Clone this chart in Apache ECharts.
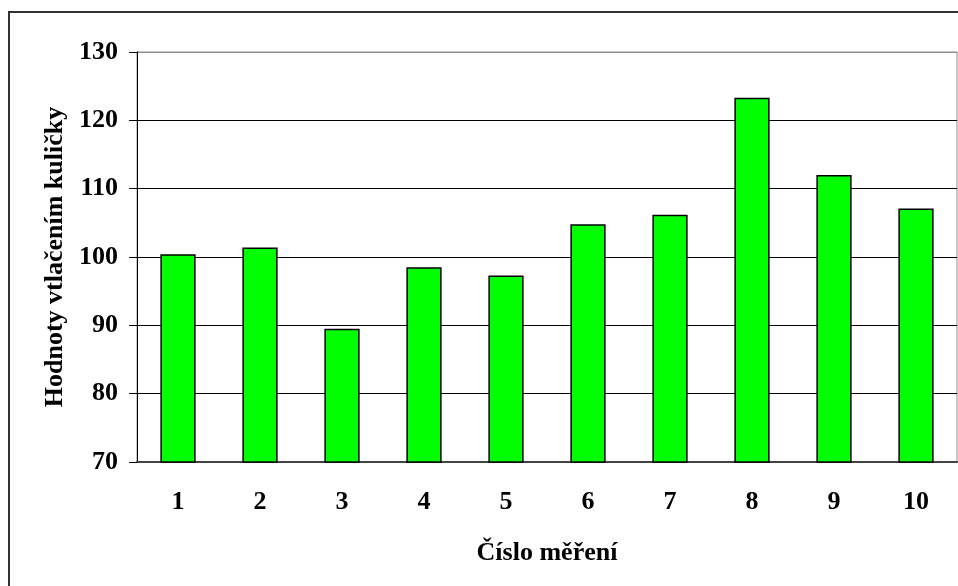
<!DOCTYPE html>
<html>
<head>
<meta charset="utf-8">
<script src="https://cdn.jsdelivr.net/npm/echarts@6/dist/echarts.min.js"></script>
<style>html,body{margin:0;padding:0;background:#fff;}#c{width:958px;height:586px;}</style>
</head>
<body>
<div id="c"></div>
<script>
const categories = ['1','2','3','4','5','6','7','8','9','10'];
const values = [100.4, 101.4, 89.5, 98.5, 97.3, 104.8, 106.2, 123.3, 112.0, 107.1];
const yTicks = [70, 80, 90, 100, 110, 120, 130];
const xTitle = 'Číslo měření';
const yTitle = 'Hodnoty vtlačením kuličky';

const FONT = '"Liberation Serif", "Times New Roman", serif';
const chart = echarts.init(document.getElementById('c'), null, {renderer: 'canvas'});
chart.setOption({
  animation: false,
  backgroundColor: '#fff',
  graphic: [{
    type: 'rect', silent: true, z: -10,
    shape: {x: 9, y: 12, width: 960, height: 590},
    style: {fill: 'none', stroke: '#333', lineWidth: 2}
  }],
  grid: {left: 137, top: 52, right: 1, bottom: 124, show: true, borderColor: '#909090', borderWidth: 1, backgroundColor: 'transparent'},
  xAxis: {
    type: 'category', data: categories,
    name: xTitle, nameLocation: 'middle', nameGap: 78,
    nameTextStyle: {fontFamily: FONT, fontWeight: 'bold', fontSize: 26, color: '#000'},
    axisLine: {lineStyle: {color: '#444', width: 2}},
    axisTick: {length: 8, lineStyle: {color: '#444'}},
    axisLabel: {fontFamily: FONT, fontWeight: 'bold', fontSize: 26, color: '#000', margin: 27},
    splitLine: {show: false}
  },
  yAxis: {
    type: 'value', min: yTicks[0], max: yTicks[yTicks.length - 1], interval: 10,
    name: yTitle, nameLocation: 'middle', nameGap: 66, nameRotate: 90,
    nameTextStyle: {fontFamily: FONT, fontWeight: 'bold', fontSize: 26, color: '#000'},
    axisLine: {show: true, lineStyle: {color: '#000', width: 1}},
    axisTick: {show: true, length: 8, lineStyle: {color: '#000'}},
    axisLabel: {fontFamily: FONT, fontWeight: 'bold', fontSize: 26, color: '#000', margin: 19},
    splitLine: {show: true, lineStyle: {color: ['#000','#000','#000','#000','#000','#000','#909090'], width: 1}}
  },
  series: [{
    type: 'bar', data: values, barWidth: '43%',
    itemStyle: {color: '#00ff00', borderColor: '#000', borderWidth: 1.5}
  }]
});
</script>
</body>
</html>
